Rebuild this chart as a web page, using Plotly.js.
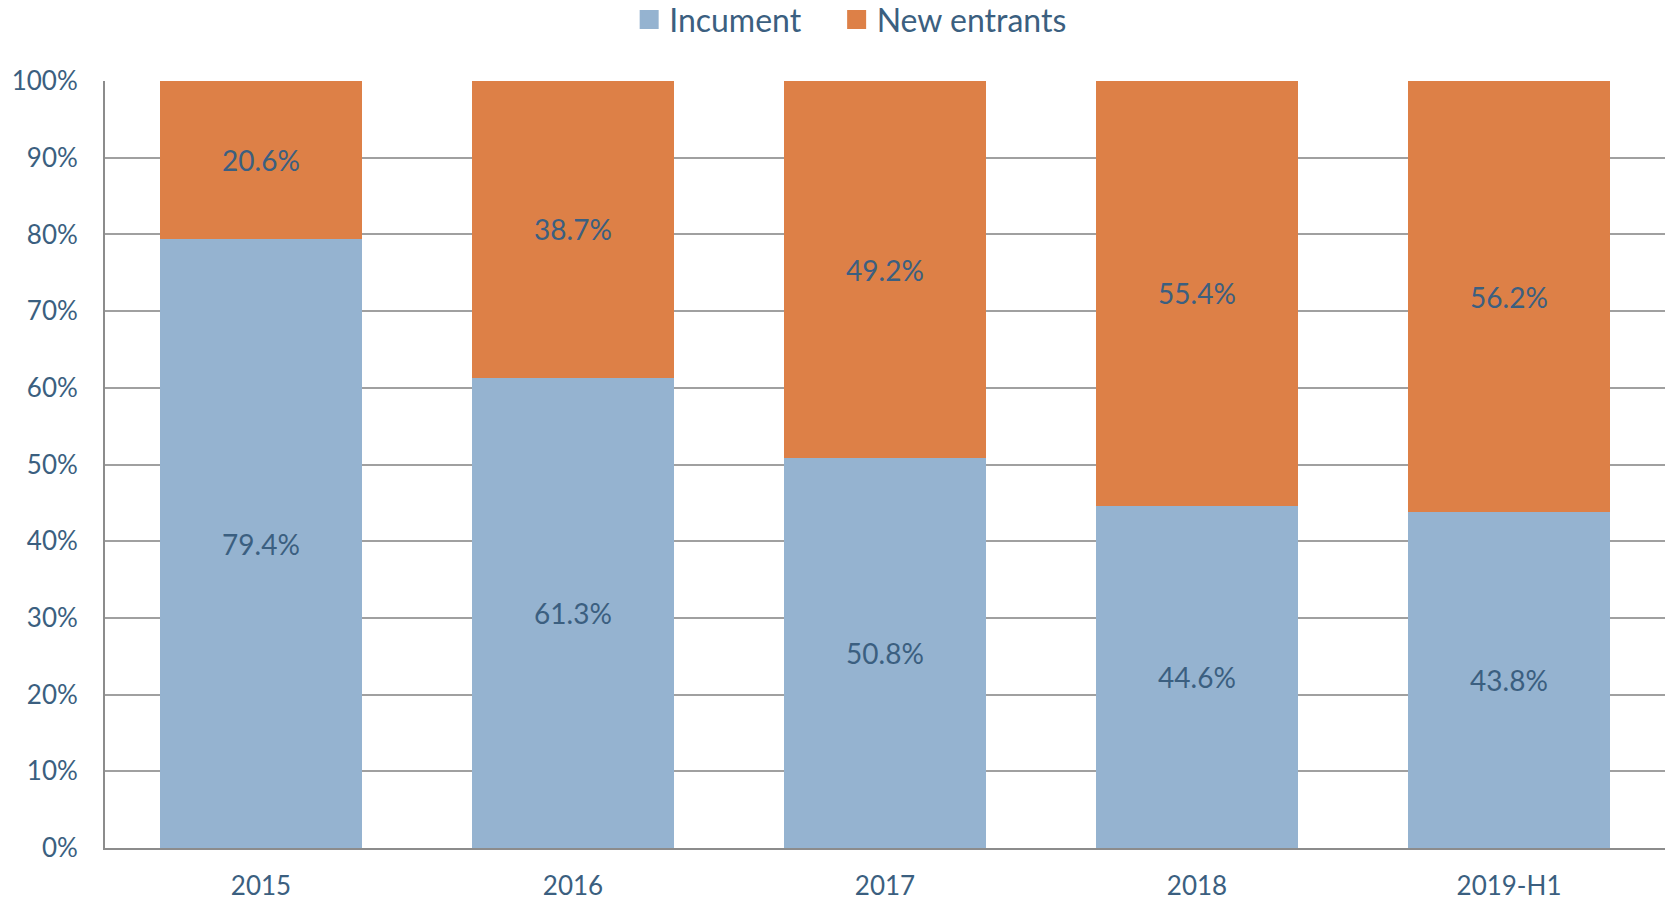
<!DOCTYPE html>
<html>
<head>
<meta charset="utf-8">
<script src="https://cdn.plot.ly/plotly-3.0.1.min.js"></script>
<style>html,body{margin:0;padding:0;background:#fff;}#chart{width:1669px;height:901px;}</style>
</head>
<body>
<div id="chart"></div>
<script>
const categories = ["2015", "2016", "2017", "2018", "2019-H1"];
const incumbent = [79.4, 61.3, 50.8, 44.6, 43.8];
const newEntrants = [20.6, 38.7, 49.2, 55.4, 56.2];
const seriesNames = ["Incument", "New entrants"];
const seriesColors = ["#95B3D0", "#DD8047"];

const textColor = "#3B5F80";
const font = "Lato, 'Open Sans', sans-serif";

const traces = [
  {type: "bar", name: seriesNames[0], x: categories, y: incumbent, marker: {color: seriesColors[0]},
   texttemplate: "%{y:.1f}%", textposition: "inside", insidetextanchor: "middle",
   textfont: {color: textColor, size: 28, family: font}, hoverinfo: "skip", showlegend: false},
  {type: "bar", name: seriesNames[1], x: categories, y: newEntrants, marker: {color: seriesColors[1]},
   texttemplate: "%{y:.1f}%", textposition: "inside", insidetextanchor: "middle",
   textfont: {color: textColor, size: 28, family: font}, hoverinfo: "skip", showlegend: false},
  // legend entries with larger square swatches
  {type: "scatter", mode: "markers", name: seriesNames[0], x: [null], y: [null], legend: "legend",
   marker: {symbol: "square", size: 20, color: seriesColors[0], line: {color: seriesColors[0], width: 3}},
   showlegend: true, hoverinfo: "skip"},
  {type: "scatter", mode: "markers", name: seriesNames[1], x: [null], y: [null], legend: "legend2",
   marker: {symbol: "square", size: 20, color: seriesColors[1], line: {color: seriesColors[1], width: 3}},
   showlegend: true, hoverinfo: "skip"}
];

const legendBase = {orientation: "h", xref: "paper", xanchor: "left", yref: "container", y: 0.978, yanchor: "middle",
  font: {size: 32, color: textColor, family: font}, itemsizing: "trace", bgcolor: "rgba(0,0,0,0)"};

const layout = {
  width: 1669, height: 901,
  barmode: "stack", bargap: 0.353,
  margin: {l: 105, r: 4, t: 81, b: 53},
  paper_bgcolor: "#fff", plot_bgcolor: "#fff",
  font: {family: font, color: textColor, size: 25},
  showlegend: true,
  legend: Object.assign({}, legendBase, {x: 0.336}),
  legend2: Object.assign({}, legendBase, {x: 0.469}),
  xaxis: {type: "category", showline: true, linecolor: "#8C8C8C", linewidth: 2, ticks: "", showgrid: false,
          tickfont: {size: 26, color: textColor}, ticklabelstandoff: 14},
  yaxis: {range: [0, 100], dtick: 10, ticksuffix: "%", showline: true, linecolor: "#8C8C8C", linewidth: 2,
          gridcolor: "#A0A0A0", gridwidth: 2, zeroline: false, ticks: "", tickfont: {size: 26, color: textColor}, ticklabelstandoff: 20}
};

Plotly.newPlot("chart", traces, layout, {displayModeBar: false, staticPlot: true});
</script>
</body>
</html>
